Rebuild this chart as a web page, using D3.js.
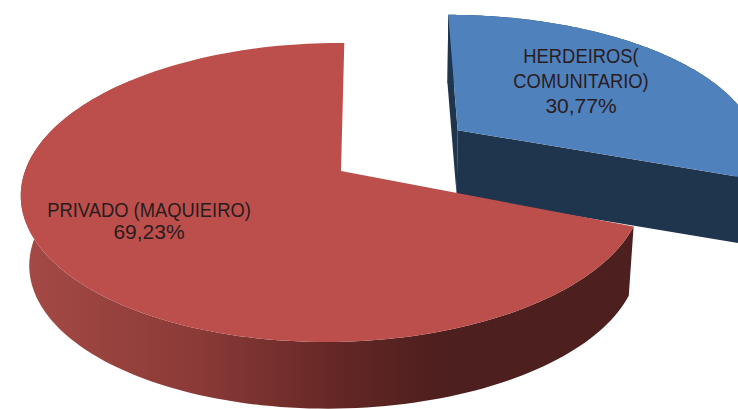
<!DOCTYPE html>
<html><head><meta charset="utf-8">
<script src="https://cdnjs.cloudflare.com/ajax/libs/d3/7.8.5/d3.min.js"></script>
<style>html,body{margin:0;padding:0;background:#fff;overflow:hidden}svg{display:block}
text{font-family:"Liberation Sans",Arial,sans-serif;font-size:21px;fill:#2a1c1e;text-anchor:middle}</style>
</head><body><svg id="c" width="738" height="409"></svg>
<script>
const categories = ["HERDEIROS( COMUNITARIO)", "PRIVADO (MAQUIEIRO)"];
const values = [30.77, 69.23];
const labelLines = [["HERDEIROS(", "COMUNITARIO)", "30,77%"], ["PRIVADO (MAQUIEIRO)", "69,23%"]];
const topColors = ["#4f81bd", "#bc4f4b"];
const wallStops = [[21, "#a54a46"], [200, "#8a3a37"], [340, "#632725"], [440, "#4d1f1e"], [640, "#4d1f1e"]];
const blueWall = "#1f344d";

const W = 738, H = 409;
// perspective camera fitted to the picture
const horizon = {x: 378, y: -847}, nadir = {x: 410, y: 3400};
const apexH = 1018, K = 0.1438, R = 308;
const wallT = [0.0202, 0.0218];
const rotStart = [0, 0.3], rotEnd = [0, 1.2];
const radV = [0.97, 1];
const deg = Math.PI / 180;

function project(u, v, z, t) {
  const h = apexH / (1 - K * v);
  let X = horizon.x + u * R * h / apexH, Y = horizon.y + h;
  if (z) { X += (nadir.x - X) * t; Y += (nadir.y - Y) * t; }
  return [X, Y];
}
const svg = d3.select("#c");
const defs = svg.append("defs");
const grad = defs.append("linearGradient").attr("id", "wall").attr("gradientUnits", "userSpaceOnUse")
  .attr("x1", 0).attr("x2", W).attr("y1", 0).attr("y2", 0);
wallStops.forEach(s => grad.append("stop").attr("offset", s[0] / W).attr("stop-color", s[1]));

const arcs = d3.pie().sort(null).value(d => d)(values);
const line = d3.line();
const offX = -45 / R; // circle centre on the ground plane
function rim(a, c, i) {
  const s = a.startAngle + rotStart[i] * deg, e = a.endAngle + rotEnd[i] * deg;
  return d3.range(0, 161).map(k => {
    const t = s + (e - s) * k / 160;
    return [c.u + Math.sin(t), c.v - radV[i] * Math.cos(t)];
  });
}
const apexes = [{u: 83 / R, v: -0.29}, {u: -37 / R, v: 0}];
const layers = arcs.map((a, i) => {
  const c = i === 0 ? {u: apexes[0].u, v: apexes[0].v} : {u: offX, v: 0};
  return {a, i, c, pts: rim(a, c, i)};
});

layers.forEach(({i, pts}) => {
  const g = svg.append("g");
  const apex = apexes[i], t = wallT[i];
  if (i === 0) {
    const first = pts[0], last = pts[pts.length - 1];
    const quad = (p, q) => [project(p[0], p[1], 0, t), project(q[0], q[1], 0, t), project(q[0], q[1], 1, t), project(p[0], p[1], 1, t)];
    g.append("path").attr("d", line(quad(first, [apex.u, apex.v])) + "Z").attr("fill", blueWall);
    g.append("path").attr("d", line(quad([apex.u, apex.v], last)) + "Z").attr("fill", blueWall);
    const outer = pts.map(p => project(p[0], p[1], 0, t)).concat(pts.slice().reverse().map(p => project(p[0], p[1], 1, t)));
    g.append("path").attr("d", line(outer) + "Z").attr("fill", blueWall);
  } else {
    // only the front part of the outer wall is visible
    const vis = pts.slice(0, 130);
    const outer = vis.map(p => project(p[0], p[1], 0, t)).concat(vis.slice().reverse().map(p => project(p[0], p[1], 1, t)));
    g.append("path").attr("d", line(outer) + "Z").attr("fill", "url(#wall)");
  }
  const face = [project(apex.u, apex.v, 0, t)].concat(pts.map(p => project(p[0], p[1], 0, t)));
  g.append("path").attr("d", line(face) + "Z").attr("fill", topColors[i]);
});

const labelPos = [{x: 581, y: [63, 88, 113]}, {x: 149, y: [217, 239]}];
labelLines.forEach((ls, i) => ls.forEach((t, j) => {
  const squeeze = j === ls.length - 1 ? 1 : 0.875;
  svg.append("text")
    .attr("transform", `translate(${labelPos[i].x},${labelPos[i].y[j]}) scale(${squeeze},1)`)
    .text(t);
}));
</script></body></html>
